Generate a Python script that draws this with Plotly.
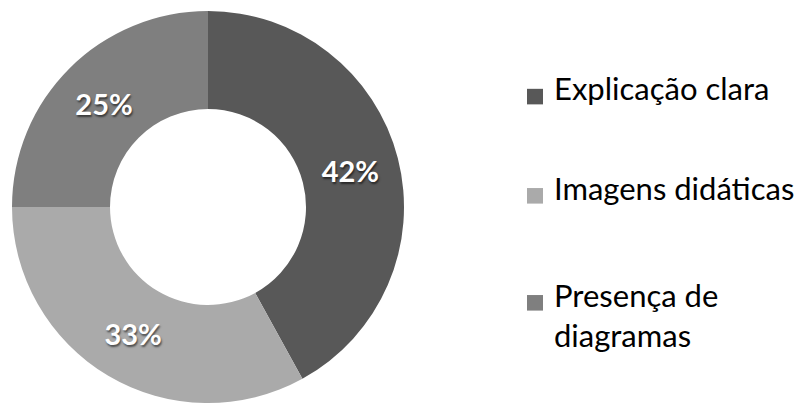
import plotly.graph_objects as go

labels = ["Explicação clara", "Imagens didáticas", "Presença de diagramas"]
legend_text = ["Explicação clara", "Imagens didáticas", "Presença de<br>diagramas"]
values = [42, 33, 25]
colors = ["#585858", "#aaaaaa", "#7f7f7f"]

fig = go.Figure()
fig.add_trace(go.Pie(
    labels=labels, values=values, hole=0.5, sort=False, direction="clockwise",
    rotation=0, marker=dict(colors=colors, line=dict(width=0)),
    texttemplate="%{percent:.0%}", textposition="inside",
    insidetextorientation="horizontal",
    textfont=dict(family="Lato", size=29, color="white", weight="bold",
                  shadow="1px 2px 2px rgba(0,0,0,0.55)"),
    domain=dict(x=[12/806, 404/806], y=[0, 1]),
    showlegend=False, hoverinfo="skip",
))

# legend built from labels/colors
item_y = [88, 190, 300]
fs = 31
shapes = []
annotations = []
for txt, col, yc in zip(legend_text, colors, item_y):
    shapes.append(dict(type="rect", xref="paper", yref="paper",
                       x0=527/806, x1=543/806, y0=1-(yc+8)/403, y1=1-(yc-8)/403,
                       fillcolor=col, line=dict(width=0)))
    annotations.append(dict(text=txt, xref="paper", yref="paper", x=552/806,
                            y=1-(yc-30)/403, xanchor="left", yanchor="top",
                            align="left", showarrow=False,
                            font=dict(family="Lato", size=fs, color="black")))

fig.update_layout(
    width=806, height=403, margin=dict(l=0, r=0, t=11, b=0),
    paper_bgcolor="white", plot_bgcolor="white",
    shapes=shapes, annotations=annotations,
)
fig.write_html("out.html")
